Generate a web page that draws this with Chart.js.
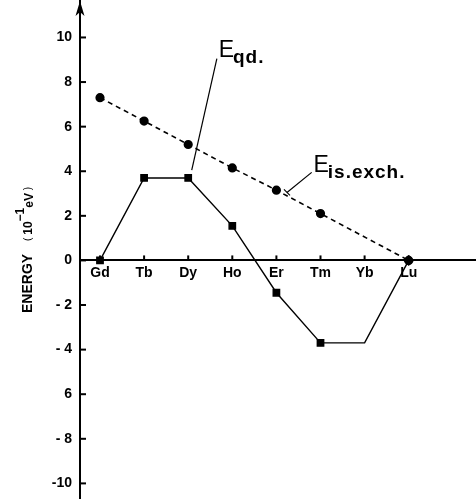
<!DOCTYPE html>
<html>
<head>
<meta charset="utf-8">
<script src="https://cdn.jsdelivr.net/npm/chart.js@4/dist/chart.umd.min.js"></script>
<style>
  html, body { margin: 0; padding: 0; background: #fff; }
  #wrap { width: 476px; height: 499px; }
</style>
</head>
<body>
<div id="wrap"><canvas id="energyChart"></canvas></div>
<script>
// lanthanide series along the x axis
const elements = ['Gd', 'Tb', 'Dy', 'Ho', 'Er', 'Tm', 'Yb', 'Lu'];
// energies in units of 10^-1 eV
const eQuadrupole = [0, 3.7, 3.7, 1.55, -1.45, -3.7, -3.7, 0];
const eIsExchange = [7.3, 6.25, 5.2, 4.15, 3.15, 2.1, null, 0];
const yTickValues = [10, 8, 6, 4, 2, 0, -2, -4, -6, -8, -10];
const yTickLabels = ['10', '8', '6', '4', '2', '0', '- 2', '- 4', '6', '- 8', '-10'];

const FONT = "'Liberation Sans', Arial, sans-serif";

// label boxes in data coordinates
const notes = [
    { main: 'E', sub: 'qd.', at: [2.69, 9.12], from: [2.65, 9.05], to: [2.08, 4.05], foot: false },
    { main: 'E', sub: 'is.exch.', at: [4.84, 3.98], from: [4.8, 3.95], to: [4.24, 3.05], foot: true }
];

const axisExtras = {
    id: 'axisExtras',
    afterDraw(chart) {
        const ctx = chart.ctx;
        const xs = chart.scales.x, ys = chart.scales.y;
        const x0 = xs.getPixelForValue(xs.min);
        const y0 = ys.getPixelForValue(0);
        ctx.save();
        ctx.strokeStyle = '#000';
        ctx.fillStyle = '#000';
        ctx.lineWidth = 2;
        // inward tick marks
        yTickValues.forEach(v => {
            const p = ys.getPixelForValue(v);
            ctx.beginPath(); ctx.moveTo(x0, p); ctx.lineTo(x0 + 6, p); ctx.stroke();
        });
        elements.forEach((e, i) => {
            const p = xs.getPixelForValue(i);
            ctx.beginPath(); ctx.moveTo(p, y0); ctx.lineTo(p, y0 - 5); ctx.stroke();
        });
        // arrow head on the y axis
        ctx.beginPath();
        ctx.moveTo(x0, 1);
        ctx.lineTo(x0 - 4.5, 16);
        ctx.lineTo(x0, 12);
        ctx.lineTo(x0 + 4.5, 16);
        ctx.closePath();
        ctx.fill();

        // curve labels with leader lines
        ctx.lineWidth = 1.2;
        notes.forEach(n => {
            const fx = xs.getPixelForValue(n.from[0]), fy = ys.getPixelForValue(n.from[1]);
            const tx = xs.getPixelForValue(n.to[0]), ty = ys.getPixelForValue(n.to[1]);
            ctx.beginPath(); ctx.moveTo(fx, fy); ctx.lineTo(tx, ty); ctx.stroke();
            if (n.foot) {
                ctx.beginPath(); ctx.moveTo(tx - 3, ty - 3); ctx.lineTo(tx + 3, ty + 3); ctx.stroke();
            }
            const lx = xs.getPixelForValue(n.at[0]), ly = ys.getPixelForValue(n.at[1]);
            ctx.textBaseline = 'alphabetic';
            ctx.textAlign = 'left';
            ctx.letterSpacing = '0px';
            ctx.font = '23px ' + FONT;
            ctx.fillText(n.main, lx, ly);
            const w = ctx.measureText(n.main).width;
            ctx.font = 'bold 19px ' + FONT;
            ctx.letterSpacing = '1px';
            ctx.fillText(n.sub, lx + w - 1, ly + 6);
        });
        ctx.letterSpacing = '0px';

        // rotated y axis title
        ctx.translate(32, 313);
        ctx.rotate(-Math.PI / 2);
        ctx.textAlign = 'left';
        let cx = 0;
        const piece = (txt, font, dy) => {
            ctx.font = font;
            ctx.fillText(txt, cx, dy);
            cx += ctx.measureText(txt).width;
        };
        piece('ENERGY', 'bold 14px ' + FONT, 0);
        cx += 13;
        piece('( ', '10px ' + FONT, -1);
        piece('10', 'bold 12px ' + FONT, 0);
        piece('\u22121', 'bold 12px ' + FONT, -8);
        piece('eV', 'bold 12px ' + FONT, 1);
        piece(' )', '10px ' + FONT, -1);
        ctx.restore();
    }
};

const ctx = document.getElementById('energyChart').getContext('2d');
new Chart(ctx, {
    type: 'line',
    data: {
        datasets: [
            {
                label: 'E qd.',
                data: eQuadrupole.map((v, i) => ({ x: i, y: v })),
                borderColor: '#000',
                backgroundColor: '#000',
                borderWidth: 1.4,
                pointStyle: c => c.dataIndex === 7 ? 'rectRot' : 'rect',
                pointRadius: c => c.dataIndex === 6 ? 0 : 4.5,
                tension: 0
            },
            {
                label: 'E is.exch.',
                data: eIsExchange.map((v, i) => ({ x: i, y: v })),
                borderColor: '#000',
                backgroundColor: '#000',
                borderWidth: 1.6,
                borderDash: [5, 4],
                pointStyle: 'circle',
                pointRadius: 3.8,
                spanGaps: true,
                tension: 0
            }
        ]
    },
    options: {
        responsive: true,
        maintainAspectRatio: false,
        animation: false,
        layout: { padding: 0, autoPadding: false },
        plugins: {
            legend: { display: false },
            tooltip: { enabled: false }
        },
        scales: {
            x: {
                type: 'linear',
                min: -0.4535,
                max: 8.526,
                position: { y: 0 },
                afterBuildTicks: s => { s.ticks = elements.map((e, i) => ({ value: i })); },
                afterFit: s => { s.paddingLeft = 0; s.paddingRight = 0; },
                ticks: {
                    callback: v => elements[v],
                    color: '#000',
                    padding: 4,
                    maxRotation: 0,
                    autoSkip: false,
                    font: { family: FONT, size: 14, weight: 'bold' }
                },
                grid: { display: true, drawOnChartArea: false, drawTicks: false },
                border: { display: true, color: '#000', width: 2 }
            },
            y: {
                min: -10.7,
                max: 11.68,
                afterFit: s => { s.width = 80; s.paddingTop = 0; s.paddingBottom = 0; },
                afterBuildTicks: s => { s.ticks = yTickValues.map(v => ({ value: v })); },
                ticks: {
                    callback: (v, i) => yTickLabels[yTickValues.indexOf(v)],
                    color: '#000',
                    padding: 8,
                    autoSkip: false,
                    font: { family: FONT, size: 14, weight: 'bold' }
                },
                grid: { display: true, drawOnChartArea: false, drawTicks: false },
                border: { display: true, color: '#000', width: 2 }
            }
        }
    },
    plugins: [axisExtras]
});
</script>
</body>
</html>
